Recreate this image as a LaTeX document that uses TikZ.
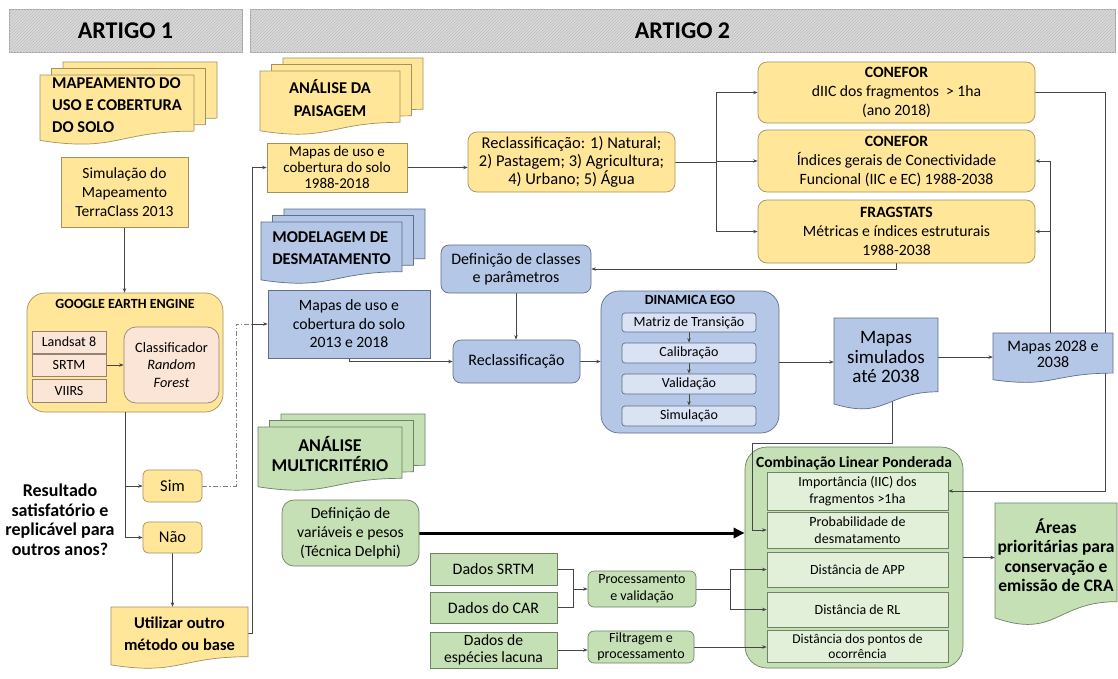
\documentclass[tikz,border=0pt]{standalone}
\usepackage{fontspec}
\setmainfont{Carlito}
\usetikzlibrary{arrows.meta,patterns,calc}
\definecolor{yelF}{RGB}{255,230,153}
\definecolor{yelD}{RGB}{165,145,95}
\definecolor{pchF}{RGB}{251,229,214}
\definecolor{pchD}{RGB}{150,130,115}
\definecolor{bluF}{RGB}{180,199,231}
\definecolor{bluD}{RGB}{95,110,140}
\definecolor{bluL}{RGB}{218,227,243}
\definecolor{grnF}{RGB}{197,224,180}
\definecolor{grnD}{RGB}{110,130,100}
\definecolor{grnL}{RGB}{226,240,217}
\definecolor{lineC}{RGB}{70,70,70}
\definecolor{hdrF}{RGB}{218,218,218}
\definecolor{hdrD}{RGB}{170,170,170}
\definecolor{hdrP}{RGB}{190,190,190}
\pgfdeclarelayer{bgl}
\pgfdeclarelayer{cont}
\pgfdeclarelayer{lines}
\pgfsetlayers{bgl,cont,lines,main}
\newcommand{\fs}[2]{\fontsize{#1}{#2}\selectfont}
% box from pixel corners: style, name, x1, y1, x2, y2, text
\newcommand{\bx}[7]{\node[#1, minimum width={(#5-(#3))*1pt}, minimum height={(#6-(#4))*1pt}] (#2) at ({(#3+#5)/2},{(#4+#6)/2}) {#7};}
% document outline: style, x1, y1, x2, h
\newcommand{\docshape}[5]{\path[#1] (#2,#3) -- (#4,#3) -- (#4,{#3+0.802*(#5)}) .. controls ({(#2+#4)/2},{#3+0.802*(#5)}) and ({(#2+#4)/2},{#3+1.107*(#5)}) .. (#2,{#3+0.934*(#5)}) -- cycle;}
% document node: shape style, node style, name, x1, y1, x2, h, text
\newcommand{\docbx}[8]{\docshape{#1}{#4}{#5}{#6}{#7}%
 \node[txt, #2, minimum width={(#6-(#4))*1pt}, minimum height={0.85*(#7)*1pt}] (#3) at ({(#4+#6)/2},{#5+0.425*(#7)}) {#8};}
\newcommand{\mdocbx}[8]{\docshape{#1}{#4+23}{#5-13}{#6+23}{#7}%
 \docshape{#1}{#4+11.5}{#5-6.5}{#6+11.5}{#7}%
 \docbx{#1}{#2}{#3}{#4}{#5}{#6}{#7}{#8}}
\tikzset{
 every node/.style={inner sep=0pt, align=center, text=black},
 base/.style={draw, line width=0.7pt},
 hdr/.style={fill=hdrF, draw=hdrD, line width=0.6pt, postaction={pattern=north east lines, pattern color=hdrP}},
 ybox/.style={base, fill=yelF, draw=yelD},
 yrnd/.style={ybox, rounded corners=9pt},
 pbox/.style={base, fill=pchF, draw=pchD},
 bbox/.style={base, fill=bluF, draw=bluD},
 brnd/.style={bbox, rounded corners=8pt},
 blt/.style={base, fill=bluL, draw=bluD, rounded corners=3pt},
 gbox/.style={base, fill=grnF, draw=grnD},
 grnd/.style={gbox, rounded corners=10pt},
 glt/.style={base, fill=grnL, draw=grnD},
 ydoc/.style={fill=yelF, draw=yelD, line width=0.7pt},
 bdoc/.style={fill=bluF, draw=bluD, line width=0.7pt},
 gdoc/.style={fill=grnF, draw=grnD, line width=0.7pt},
 txt/.style={draw=none, fill=none},
 ttl/.style={anchor=north},
 ln/.style={draw=lineC, line width=0.7pt},
 arr/.style={ln, -{Stealth[length=4.5pt,width=3.5pt]}},
 bigarr/.style={draw=black, line width=3pt, -{Triangle[length=11pt,width=10pt]}},
 ddln/.style={draw=gray, line width=0.7pt, dash pattern=on 5pt off 2pt on 1.2pt off 2pt},
}
\begin{document}
\begin{tikzpicture}[x=1pt,y=-1pt]
\useasboundingbox (0,0) rectangle (1118,678);
\begin{pgfonlayer}{bgl}
\fill[white] (0,0) rectangle (1118,678);
\end{pgfonlayer}

% ---------- headers
\bx{hdr, font=\bfseries\fs{24}{28}}{art1}{9}{9}{242}{52}{ARTIGO 1}
\bx{hdr, font=\bfseries\fs{24}{28}}{art2}{250}{9}{1115}{52}{ARTIGO 2}

% ---------- containers
\begin{pgfonlayer}{cont}
\bx{ybox, rounded corners=18pt, label={[ttl, yshift=-6pt, font=\bfseries\fs{14}{16}]north:GOOGLE EARTH ENGINE}}{gee}{27}{293}{223}{412}{}
\bx{bbox, rounded corners=18pt, label={[ttl, yshift=-4pt, font=\bfseries\fs{14}{16}]north:DINAMICA EGO}}{dinamica}{601}{291}{779}{433}{}
\bx{gbox, rounded corners=22pt, label={[ttl, yshift=-10pt, font=\bfseries\fs{15.5}{18}]north:Combinação Linear Ponderada}}{clp}{745}{447}{963}{668}{}
\end{pgfonlayer}

% ---------- ARTIGO 1
\mdocbx{ydoc}{font=\bfseries\fs{16.5}{22}, align=left}{mapeam}{40}{75}{194}{70}{MAPEAMENTO DO\\USO E COBERTURA\\DO SOLO}
\bx{ybox, font=\fs{15.5}{19}}{sim2013}{61}{157}{188}{227}{Simulação do\\Mapeamento\\TerraClass 2013}
\bx{pbox, font=\fs{14}{16}}{landsat}{32}{331}{106}{353}{Landsat 8}
\bx{pbox, font=\fs{14}{16}}{srtm}{32}{354}{106}{376}{SRTM}
\bx{pbox, font=\fs{14}{16}}{viirs}{32}{379}{106}{402}{VIIRS}
\bx{pbox, rounded corners=12pt, font=\fs{14.3}{17.5}}{rf}{124}{327}{219}{403}{Classificador\\\textit{Random}\\\textit{Forest}}
\bx{yrnd, rounded corners=5pt, font=\fs{16.5}{18}}{simbox}{143}{470}{202}{502}{Sim}
\bx{yrnd, rounded corners=5pt, font=\fs{16.5}{18}}{nao}{143}{522}{202}{553}{Não}
\node[font=\bfseries\fs{18}{19.5}] (quest) at (60,519.5) {Resultado\\satisfatório e\\replicável para\\outros anos?};
\docbx{ydoc}{font=\bfseries\fs{16.5}{22}}{utilizar}{111}{607}{248}{62}{Utilizar outro\\método ou base}

% ---------- ARTIGO 2 : paisagem
\mdocbx{ydoc}{font=\bfseries\fs{16.5}{23}}{analpais}{260}{71}{400}{64}{ANÁLISE DA\\PAISAGEM}
\bx{ybox, font=\fs{15}{16}}{mapas88}{267}{143}{407}{192}{Mapas de uso e\\cobertura do solo\\1988-2018}
\bx{yrnd, font=\fs{16.5}{18}}{recl88}{468}{132}{675}{192}{Reclassificação: 1) Natural;\\2) Pastagem; 3) Agricultura;\\4) Urbano; 5) Água}
\bx{yrnd, font=\fs{15.7}{19}}{conef1}{758}{62}{1035}{123}{\textbf{CONEFOR}\\dIIC dos fragmentos\ \ > 1ha\\(ano 2018)}
\bx{yrnd, font=\fs{15.7}{19}}{conef2}{758}{130}{1035}{192}{\textbf{CONEFOR}\\Índices gerais de Conectividade\\Funcional (IIC e EC) 1988-2038}
\bx{yrnd, font=\fs{15.7}{19}}{frag}{758}{200}{1035}{263}{\textbf{FRAGSTATS}\\Métricas e índices estruturais\\1988-2038}

% ---------- modelagem
\mdocbx{bdoc}{font=\bfseries\fs{16.5}{22}, align=left}{modelag}{261}{222}{402}{62}{MODELAGEM DE\\DESMATAMENTO}
\bx{brnd, font=\fs{16}{18}}{defcls}{441}{245}{591}{293}{Definição de classes\\e parâmetros}
\bx{bbox, font=\fs{15.7}{18.5}}{mapas13}{268}{290}{430}{358}{Mapas de uso e\\cobertura do solo\\2013 e 2018}
\bx{brnd, font=\fs{16}{18}}{reclB}{453}{340}{580}{383}{Reclassificação}
\bx{blt, font=\fs{14}{16}}{matriz}{622}{313}{756}{332}{Matriz de Transição}
\bx{blt, font=\fs{14}{16}}{calib}{622}{343}{756}{363}{Calibração}
\bx{blt, font=\fs{14}{16}}{valid}{622}{374}{756}{394}{Validação}
\bx{blt, font=\fs{14}{16}}{simul}{622}{406}{756}{426}{Simulação}
\docbx{bdoc}{font=\fs{19}{19.5}}{mapsim}{834}{318}{938}{92}{Mapas\\simulados\\até 2038}
\docbx{bdoc}{font=\fs{16}{16.5}}{map2028}{993}{333}{1113}{50}{Mapas 2028 e\\2038}

% ---------- multicriterio
\mdocbx{gdoc}{font=\bfseries\fs{18}{20}}{analmulti}{258}{427}{402}{64}{ANÁLISE\\MULTICRITÉRIO}
\bx{grnd, rounded corners=12pt, font=\fs{15.7}{19}}{defvar}{282}{500}{419}{566}{Definição de\\variáveis e pesos\\(Técnica Delphi)}
\bx{gbox, font=\fs{16}{18}}{dsrtm}{430}{553}{557}{585}{Dados SRTM}
\bx{gbox, font=\fs{16}{18}}{dcar}{430}{592}{557}{623}{Dados do CAR}
\bx{gbox, font=\fs{15.6}{16.5}}{desp}{430}{632}{557}{668}{Dados de\\espécies lacuna}
\bx{grnd, rounded corners=6pt, font=\fs{14}{17}}{proc}{588}{571}{696}{607}{Processamento\\e validação}
\bx{grnd, rounded corners=6pt, font=\fs{14}{16}}{filt}{588}{631}{694}{663}{Filtragem e\\processamento}
\bx{glt, font=\fs{14}{17}}{imp}{767}{472}{948}{510}{Importância (IIC) dos\\fragmentos >1ha}
\bx{glt, font=\fs{14}{17}}{prob}{767}{512}{948}{548}{Probabilidade de\\desmatamento}
\bx{glt, font=\fs{14}{17}}{app}{767}{552}{948}{587}{Distância de APP}
\bx{glt, font=\fs{14}{17}}{rl}{767}{592}{948}{627}{Distância de RL}
\bx{glt, font=\fs{13.5}{15}}{pontos}{767}{630}{948}{662}{Distância dos pontos de\\ocorrência}
\docbx{gdoc}{font=\bfseries\fs{17.5}{19.5}}{areas}{995}{503}{1117}{123}{Áreas\\prioritárias para\\conservação e\\emissão de CRA}

% ---------- connectors
\coordinate (busx) at (252,0);
\coordinate (ddx) at (236,0);
\coordinate (rbus) at (716,0);
\coordinate (rx) at (1105,0);
\coordinate (c1) at (752,443);
\coordinate (pbus) at (573,0);
\coordinate (abus) at (730,0);
\begin{pgfonlayer}{lines}
\draw[arr] (sim2013.south) -- (sim2013.south |- gee.north);
\draw[arr] (srtm) -- (rf);
\draw[arr] (gee.south) |- (simbox.west);
\draw[arr] (gee.south) |- (nao.west);
\draw[arr] (nao.south) -- (nao.south |- utilizar.north);
\draw[ddln] (simbox.east) -- (simbox.east -| ddx) -- (ddx |- mapas13.west) -- (mapas13.west -| busx);
\draw[arr] (utilizar.east) -- (utilizar.east -| busx) |- (mapas88.west);
\draw[arr] (utilizar.east -| busx) |- (mapas13.west);
\draw[arr] (mapas88.east) -- (mapas88.east -| recl88.west);
\draw[arr] (recl88.east) -- (recl88.east -| rbus) |- (conef1.west);
\draw[arr] (recl88.east -| rbus) |- (conef2.west);
\draw[arr] (recl88.east -| rbus) |- (frag.west);
\draw[arr] (conef1.east) -- (conef1.east -| rx) |- (imp.east);
\draw[arr] ([xshift=-3pt]map2028.north) |- (conef2.east);
\draw[arr] ([xshift=-3pt]map2028.north) |- (frag.east);
\draw[arr] (frag.south) |- (defcls.east);
\draw[arr] (defcls.south) -- (defcls.south |- reclB.north);
\draw[arr] (mapas13.south) |- (reclB.west);
\draw[arr] (reclB.east) -- (reclB.east -| dinamica.west);
\draw[arr] (matriz) -- (calib);
\draw[arr] (calib) -- (valid);
\draw[arr] (valid) -- (simul);
\draw[arr] (dinamica.east) -- (dinamica.east -| mapsim.west);
\draw[arr] (mapsim.east) -- (mapsim.east -| map2028.west);
\draw[arr] ([xshift=6pt]mapsim.south) -- ([xshift=6pt]mapsim.south |- c1) -- (c1) |- (prob.west);
\draw[bigarr] (defvar.east) -- (defvar.east -| clp.west);
\draw[ln] (dsrtm.east) -- (dsrtm.east -| pbus) -- (dcar.east -| pbus) -- (dcar.east);
\draw[arr] (pbus |- proc.west) -- (proc.west);
\draw[arr] (proc.east) -- (proc.east -| abus) |- (app.west);
\draw[arr] (proc.east -| abus) |- (rl.west);
\draw[arr] (desp.east) -- (desp.east -| filt.west);
\draw[arr] (filt.east) -- (filt.east -| pontos.west);
\draw[arr] (clp.east) -- (clp.east -| areas.west);
\end{pgfonlayer}
\end{tikzpicture}
\end{document}
